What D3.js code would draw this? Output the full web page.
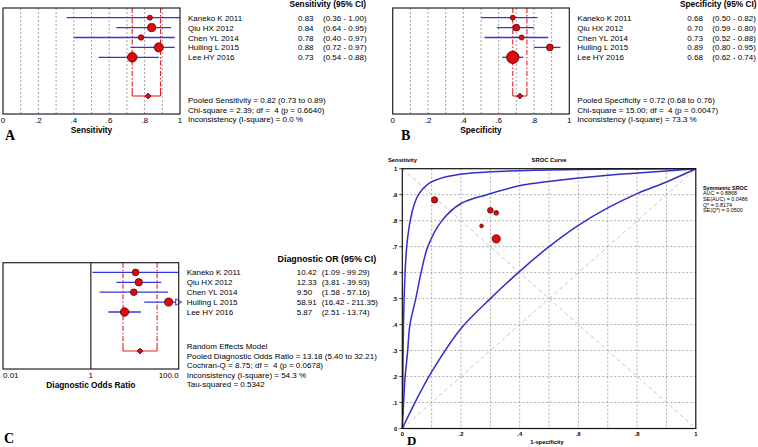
<!DOCTYPE html>
<html><head><meta charset="utf-8">
<script src="https://cdn.jsdelivr.net/npm/d3@7/dist/d3.min.js"></script>
<style>
html,body{margin:0;padding:0;background:#fff;}
svg{display:block;font-family:"Liberation Sans",Arial,sans-serif;}
text{white-space:pre;}
</style></head>
<body>
<svg id="c" width="758" height="447"></svg>
<script>
// ---------- DATA ----------
const studies = ["Kaneko K 2011","Qiu HX 2012","Chen YL 2014","Huiling L 2015","Lee HY 2016"];
const sens   = [0.83,0.84,0.78,0.88,0.73];
const sensLo = [0.36,0.64,0.40,0.72,0.54];
const sensHi = [1.00,0.95,0.97,0.97,0.88];
const sensWeight = [6,16,7,20,22];
const spec   = [0.68,0.70,0.73,0.89,0.68];
const specLo = [0.50,0.59,0.52,0.80,0.62];
const specHi = [0.82,0.80,0.88,0.95,0.74];
const specWeight = [6,11,6,11,37];
const dor    = [10.42,12.33,9.50,58.91,5.87];
const dorLo  = [1.09,3.81,1.58,16.42,2.51];
const dorHi  = [99.29,39.93,57.16,211.35,13.74];
const dorWeight = [10.5,13,10.5,15.4,17];
const srocWeight = [5.3,7.3,3.2,9,16];
const pooledSens = [0.82,0.73,0.89];
const pooledSpec = [0.72,0.68,0.76];
const pooledDor  = [13.18,5.40,32.21];
const sensStats = ["Pooled Sensitivity = 0.82 (0.73 to 0.89)","Chi-square = 2.39; df =  4 (p = 0.6640)","Inconsistency (I-square) = 0.0 %"];
const specStats = ["Pooled Specificity = 0.72 (0.68 to 0.76)","Chi-square = 15.00; df =  4 (p = 0.0047)","Inconsistency (I-square) = 73.3 %"];
const dorStats  = ["Random Effects Model","Pooled Diagnostic Odds Ratio = 13.18 (5.40 to 32.21)","Cochran-Q = 8.75; df =  4 (p = 0.0678)","Inconsistency (I-square) = 54.3 %","Tau-squared = 0.5342"];
const propTicks = [0,0.2,0.4,0.6,0.8,1];
const propTickLabels = ["0",".2",".4",".6",".8","1"];
const dorTicks = [0.01,1,100];
const dorTickLabels = ["0.01","1","100.0"];
const srocYTicks = [0,0.1,0.2,0.3,0.4,0.5,0.6,0.7,0.8,0.9,1];
const srocYTickLabels = ["0",".1",".2",".3",".4",".5",".6",".7",".8",".9","1"];
const srocXTicks = [0,0.2,0.4,0.6,0.8,1];
const srocXTickLabels = ["0",".2",".4",".6",".8","1"];
const srocLegend = ["Symmetric SROC","AUC = 0.8868","SE(AUC) = 0.0486","Q* = 0.8174","SE(Q*) = 0.0500"];
// SROC curves (1-specificity, sensitivity)
const upperFpr = [0.001,0.002,0.004,0.008,0.015,0.027,0.04,0.055,0.09,0.146,0.214,0.3,0.45,0.6,0.8,1.0];
const upperTpr = [0.05,0.20,0.40,0.56,0.70,0.80,0.86,0.90,0.943,0.968,0.981,0.988,0.994,0.997,0.999,1.0];
const midFpr = [0,0.004,0.009,0.018,0.026,0.046,0.064,0.087,0.135,0.20,0.288,0.41,0.49,0.70,0.85,1.0];
const midTpr = [0,0.09,0.19,0.295,0.40,0.50,0.60,0.70,0.80,0.866,0.90,0.937,0.95,0.975,0.987,1.0];
const lowFpr = [0,0.05,0.1,0.2,0.3,0.4,0.5,0.6,0.7,0.8,0.9,1.0];
const lowTpr = [0,0.115,0.218,0.385,0.50,0.605,0.70,0.782,0.849,0.904,0.949,1.0];

// ---------- STYLE ----------
const BLUE = "#3434e0", RED = "#e00a0a", DKRED = "#4a0000", PRED = "#e02424";
const FS = 8;
const svg = d3.select("#c");

function forest(cfg){
  const g = svg.append("g");
  const {x0,x1,y0,y1} = cfg;
  const x = cfg.log ? d3.scaleLog().domain([0.01,100]).range([x0,x1])
                    : d3.scaleLinear().domain([0,1]).range([x0,x1]);
  const y = d3.scalePoint().domain(studies).range([y0+9.7, y0+49.3]);
  const py = y1 - 18;
  const r = d3.scaleSqrt().domain([0,25]).range([0,5.1]);
  if(cfg.grid){
    g.selectAll(".gl").data(d3.range(1,10).map(i=>i/10)).enter().append("line")
      .attr("x1",d=>x(d)).attr("x2",d=>x(d)).attr("y1",y0).attr("y2",y1)
      .attr("stroke","#8a8a8a").attr("stroke-width",0.8).attr("stroke-dasharray","2,2");
  }
  if(cfg.log){
    g.append("line").attr("x1",x(1)).attr("x2",x(1)).attr("y1",y0).attr("y2",y1)
      .attr("stroke","#222").attr("stroke-width",1.2);
  }
  const pl = cfg.pooled;
  [pl[1],pl[2]].forEach(v=>{
    g.append("line").attr("x1",x(v)).attr("x2",x(v)).attr("y1",y0).attr("y2",py-8)
      .attr("stroke",PRED).attr("stroke-width",1.1).attr("stroke-dasharray","5,2,1.5,2");
    g.append("line").attr("x1",x(v)).attr("x2",x(v)).attr("y1",py-8).attr("y2",py)
      .attr("stroke",PRED).attr("stroke-width",1.1);
  });
  g.append("line").attr("x1",x(pl[1])).attr("x2",x(pl[2])).attr("y1",py).attr("y2",py)
    .attr("stroke",PRED).attr("stroke-width",1.1);
  const dmax = x.domain()[1];
  studies.forEach((s,i)=>{
    const hi = Math.min(cfg.hi[i], dmax);
    g.append("line").attr("x1",x(cfg.lo[i])).attr("x2",x(hi)).attr("y1",y(s)).attr("y2",y(s))
      .attr("stroke",BLUE).attr("stroke-width",1.3);
    if(cfg.hi[i] > dmax){
      const xe = x(dmax);
      g.append("path").attr("d",`M${xe-3},${y(s)-3.2}L${xe+3},${y(s)}L${xe-3},${y(s)+3.2}Z`)
        .attr("fill","#fff").attr("stroke",BLUE).attr("stroke-width",1);
    }
  });
  studies.forEach((s,i)=>{
    g.append("circle").attr("cx",x(cfg.est[i])).attr("cy",y(s)).attr("r",r(cfg.w[i]))
      .attr("fill",RED).attr("stroke",DKRED).attr("stroke-width",0.8);
  });
  const px = x(pl[0]);
  g.append("path").attr("d",`M${px-3},${py}L${px},${py-3}L${px+3},${py}L${px},${py+3}Z`)
    .attr("fill",RED).attr("stroke",DKRED).attr("stroke-width",0.7);
  g.append("rect").attr("x",x0).attr("y",y0).attr("width",x1-x0).attr("height",y1-y0)
    .attr("fill","none").attr("stroke","#222").attr("stroke-width",1.2);
  cfg.ticks.forEach((t,i)=>{
    const anchor = cfg.log ? (i===0?"start":(i===cfg.ticks.length-1?"end":"middle")) : "middle";
    g.append("text").attr("x",x(t)).attr("y",y1+8.5).attr("text-anchor",anchor)
      .attr("font-size",FS).text(cfg.tickLabels[i]);
  });
  g.append("text").attr("x",(x0+x1)/2).attr("y",y1+18.5).attr("text-anchor","middle")
    .attr("font-size",FS+0.3).attr("font-weight","bold").text(cfg.title);
  g.append("text").attr("x",cfg.headerX).attr("y",y0-1).attr("text-anchor",cfg.headerAnchor)
    .attr("font-size",cfg.headerSize).attr("font-weight","bold").text(cfg.header);
  studies.forEach((s,i)=>{
    const ty = y(s)+3;
    g.append("text").attr("x",x1+8).attr("y",ty).attr("font-size",FS).text(s);
    g.append("text").attr("x",x1+118).attr("y",ty).attr("font-size",FS).text(cfg.est[i].toFixed(2));
    g.append("text").attr("x",x1+143).attr("y",ty).attr("font-size",FS)
      .text(`(${cfg.lo[i].toFixed(2)} - ${cfg.hi[i].toFixed(2)})`);
  });
  cfg.stats.forEach((t,i)=>{
    g.append("text").attr("x",x1+8).attr("y",cfg.statsY+i*cfg.statsStep).attr("font-size",FS).text(t);
  });
  g.append("text").attr("x",cfg.letterX).attr("y",cfg.letterY).attr("font-family","'Liberation Serif','Times New Roman',serif")
    .attr("font-weight","bold").attr("font-size",14).text(cfg.letter);
}

forest({x0:3,x1:180,y0:8,y1:114,grid:true,log:false,est:sens,lo:sensLo,hi:sensHi,w:sensWeight,
  pooled:pooledSens,ticks:propTicks,tickLabels:propTickLabels,title:"Sensitivity",
  header:"Sensitivity (95% CI)",headerX:366,headerAnchor:"end",headerSize:8.3,stats:sensStats,statsY:103,statsStep:9.7,
  letter:"A",letterX:5,letterY:140});
forest({x0:392.7,x1:569.3,y0:8,y1:114,grid:true,log:false,est:spec,lo:specLo,hi:specHi,w:specWeight,
  pooled:pooledSpec,ticks:propTicks,tickLabels:propTickLabels,title:"Specificity",
  header:"Specificity (95% CI)",headerX:756.5,headerAnchor:"end",headerSize:8.3,stats:specStats,statsY:103,statsStep:9.7,
  letter:"B",letterX:401,letterY:140});
forest({x0:3,x1:178.7,y0:262.7,y1:369,grid:false,log:true,est:dor,lo:dorLo,hi:dorHi,w:dorWeight,
  pooled:pooledDor,ticks:dorTicks,tickLabels:dorTickLabels,title:"Diagnostic Odds Ratio",
  header:"Diagnostic OR (95% CI)",headerX:277.5,headerAnchor:"start",headerSize:8.9,stats:dorStats,statsY:349,statsStep:9.6,
  letter:"C",letterX:4,letterY:443});

// ---------- SROC (D) ----------
(function(){
  const x0=402.3,x1=695.8,y0=168.7,y1=428.5;
  const g = svg.append("g");
  const x = d3.scaleLinear().domain([0,1]).range([x0,x1]);
  const y = d3.scaleLinear().domain([0,1]).range([y1,y0]);
  const grid = d3.range(1,10).map(i=>i/10);
  g.selectAll(".vx").data(grid).enter().append("line")
    .attr("x1",d=>x(d)).attr("x2",d=>x(d)).attr("y1",y0).attr("y2",y1)
    .attr("stroke","#999").attr("stroke-width",0.8).attr("stroke-dasharray","2,2");
  g.selectAll(".hy").data(grid).enter().append("line")
    .attr("y1",d=>y(d)).attr("y2",d=>y(d)).attr("x1",x0).attr("x2",x1)
    .attr("stroke","#999").attr("stroke-width",0.8).attr("stroke-dasharray","2,2");
  g.append("line").attr("x1",x(0)).attr("y1",y(0)).attr("x2",x(1)).attr("y2",y(1))
    .attr("stroke","#b8b8b8").attr("stroke-width",0.8).attr("stroke-dasharray","4,3");
  g.append("line").attr("x1",x(0)).attr("y1",y(1)).attr("x2",x(1)).attr("y2",y(0))
    .attr("stroke","#b8b8b8").attr("stroke-width",0.8).attr("stroke-dasharray","4,3");
  const line = d3.line().x(d=>x(d[0])).y(d=>y(d[1])).curve(d3.curveCatmullRom.alpha(0.5));
  [[upperFpr,upperTpr],[midFpr,midTpr],[lowFpr,lowTpr]].forEach(([fx,ty])=>{
    g.append("path").attr("d",line(fx.map((v,i)=>[v,ty[i]])))
      .attr("fill","none").attr("stroke","#3030c8").attr("stroke-width",1.5);
  });
  const r = d3.scaleSqrt().domain([0,16]).range([0,4.2]);
  studies.forEach((s,i)=>{
    g.append("circle").attr("cx",x(1-spec[i])).attr("cy",y(sens[i])).attr("r",r(srocWeight[i]))
      .attr("fill",RED).attr("stroke",DKRED).attr("stroke-width",0.7);
  });
  g.append("rect").attr("x",x0).attr("y",y0).attr("width",x1-x0).attr("height",y1-y0)
    .attr("fill","none").attr("stroke","#111").attr("stroke-width",1.2);
  srocYTicks.forEach((t,i)=>{
    g.append("line").attr("x1",x0-3).attr("x2",x0).attr("y1",y(t)).attr("y2",y(t)).attr("stroke","#111").attr("stroke-width",0.8);
    g.append("text").attr("x",x0-5).attr("y",y(t)+2).attr("text-anchor","end")
      .attr("font-size",5.8).attr("font-weight","bold").text(srocYTickLabels[i]);
  });
  srocXTicks.forEach((t,i)=>{
    g.append("text").attr("x",x(t)).attr("y",y1+7).attr("text-anchor","middle")
      .attr("font-size",5.8).attr("font-weight","bold").text(srocXTickLabels[i]);
  });
  g.append("text").attr("x",388).attr("y",162).attr("font-size",5.8).attr("font-weight","bold").text("Sensitivity");
  g.append("text").attr("x",549).attr("y",162).attr("text-anchor","middle").attr("font-size",5.8).attr("font-weight","bold").text("SROC Curve");
  g.append("text").attr("x",547).attr("y",443.5).attr("text-anchor","middle").attr("font-size",5.8).attr("font-weight","bold").text("1-specificity");
  srocLegend.forEach((t,i)=>{
    g.append("text").attr("x",703).attr("y",189.5+i*5.7).attr("font-size",5.4)
      .attr("font-weight",i===0?"bold":"normal").text(t);
  });
  g.append("text").attr("x",407).attr("y",445).attr("font-family","'Liberation Serif','Times New Roman',serif")
    .attr("font-weight","bold").attr("font-size",13).text("D");
})();
</script>
</body></html>
